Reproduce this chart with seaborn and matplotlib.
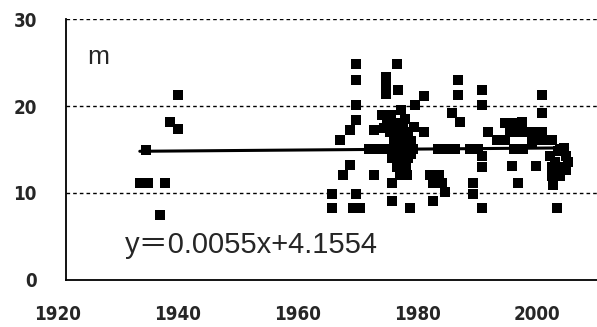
import numpy as np
import pandas as pd
import matplotlib
matplotlib.use("Agg")
import matplotlib.pyplot as plt
from matplotlib.transforms import ScaledTranslation
import seaborn as sns

# ---- data ----
years = [
    1932.3, 1933.7, 1936.5, 1935.7, 1933.4, 1938.7, 1937.3, 1938.7,
    1964.4, 1964.4, 1965.7, 1967.3, 1968.4, 1968.4, 1968.4, 1968.4, 1967.3, 1966.2,
    1968.4, 1967.9, 1969.0, 1971.4, 1971.4, 1970.5, 1971.8,
    1973.3, 1973.3, 1973.3, 1975.2, 1975.4, 1978.2, 1979.6, 1979.6,
    1972.7, 1974.2, 1973.5, 1975.0,
    1974.0, 1975.5, 1977.0, 1974.6, 1976.0, 1977.5,
    1973.0, 1974.2, 1975.4, 1976.6, 1977.8,
    1974.4, 1975.8, 1977.0, 1975.2, 1976.6, 1975.6, 1976.9,
    1974.3, 1974.3, 1977.3, 1978.0,
    1973.0, 1976.5, 1975.8, 1976.2, 1977.5, 1975.0, 1976.0, 1974.8,
    1985.4, 1985.4, 1989.3, 1989.3, 1984.4, 1985.6, 1990.4,
    1982.0, 1983.4, 1984.8, 1987.3, 1988.7,
    1989.3, 1989.3, 1980.7, 1982.1, 1981.2, 1982.6, 1983.2, 1981.2,
    1987.9, 1987.9, 1989.3,
    1991.8, 1993.2, 1994.6, 1996.2, 1997.6, 1999.3,
    1993.2, 1994.6, 1996.0, 1994.0, 1995.4, 1996.8, 1997.9,
    1999.4, 1999.4, 1999.4, 1994.3, 1998.3, 1995.4,
    2001.0, 2002.3, 2000.7, 2003.4, 2001.0, 2002.8, 2001.0, 2002.3, 2001.2, 2001.9, 2003.6,
    2002.0, 2003.0, 2002.0, 2001.5, 2003.4,
]
values = [
    11.1, 11.1, 11.1, 7.4, 14.9, 21.3, 18.2, 17.4,
    9.9, 8.2, 16.1, 17.2, 18.4, 20.1, 23.0, 24.9, 13.2, 12.1,
    9.9, 8.2, 8.2, 17.2, 12.1, 15.0, 15.0,
    23.4, 22.4, 21.4, 24.9, 21.9, 20.1, 21.1, 17.0,
    19.0, 19.0, 18.0, 18.0,
    17.0, 17.0, 17.0, 16.0, 16.0, 16.0,
    15.0, 15.0, 15.0, 15.0, 15.0,
    14.0, 14.0, 14.0, 13.0, 13.0, 12.0, 12.0,
    11.1, 9.0, 8.2, 17.6,
    17.5, 18.5, 19.5, 17.5, 14.5, 15.8, 12.8, 14.5,
    23.0, 21.3, 21.9, 20.1, 19.2, 18.2, 17.0,
    15.0, 15.0, 15.0, 15.0, 15.0,
    14.2, 13.0, 12.1, 12.1, 11.1, 11.1, 10.1, 9.0,
    11.1, 9.9, 8.2,
    16.1, 16.1, 15.1, 15.1, 15.9, 16.1,
    18.0, 18.0, 18.2, 17.0, 17.0, 17.0, 17.0,
    21.3, 19.2, 17.0, 13.1, 13.1, 11.1,
    16.1, 15.1, 14.2, 14.2, 13.0, 13.0, 11.9, 11.9, 10.9, 8.2, 13.6,
    14.8, 15.2, 12.5, 13.5, 12.6,
]
slope = 0.0055
intercept = 4.1554
equation_label = "y\uff1d0.0055x+4.1554"
unit_label = "m"
x_ticks = [1920, 1940, 1960, 1980, 2000]
y_ticks = [0, 10, 20, 30]

df = pd.DataFrame({"year": years, "value": values})
xs = np.array([min(years), max(years)])
trend = pd.DataFrame({"year": xs, "value": slope * xs + intercept})

# ---- figure ----
sns.set_style("white")
plt.rcParams["font.family"] = ["Liberation Sans", "Noto Sans CJK JP", "DejaVu Sans"]

fig = plt.figure(figsize=(5.97, 3.27), dpi=100)
ax = fig.add_axes([66 / 597, (327 - 279.5) / 327, 531 / 597, (279.5 - 19.3) / 327])

for yv in [10, 20, 30]:
    ax.axhline(yv, color="black", lw=1.0, dashes=(2.6, 2.2), zorder=1)

sns.lineplot(data=trend, x="year", y="value", color="black", lw=2.2, ax=ax, zorder=2)
sns.scatterplot(data=df, x="year", y="value", marker="s", s=42, color="black",
                linewidth=0, ax=ax, zorder=3)

ax.set_xlim(1920, 2008.5)
ax.set_ylim(0, 30)
ax.set_xticks(x_ticks)
ax.set_yticks(y_ticks)
ax.set_xlabel("")
ax.set_ylabel("")

for s in ["top", "right"]:
    ax.spines[s].set_visible(False)
for s in ["left", "bottom"]:
    ax.spines[s].set_color("black")
    ax.spines[s].set_linewidth(1.3)

tick_font = {"family": ["DejaVu Sans"], "weight": "bold",
             "stretch": "condensed", "size": 13.5}
ax.tick_params(axis="x", direction="in", length=4, width=1.0, color="black", pad=18)
ax.tick_params(axis="y", length=0, pad=21)
ax.set_xticklabels([str(t) for t in x_ticks], fontdict=tick_font)
ax.set_yticklabels([str(t) for t in y_ticks], fontdict=tick_font)
off = ScaledTranslation(-9 / 100, 0, fig.dpi_scale_trans)
for lab in ax.get_xticklabels():
    lab.set_transform(lab.get_transform() + off)

ax.text(1923.5, 24.9, unit_label, fontsize=19, family=["Liberation Sans", "DejaVu Sans"],
        va="baseline", ha="left")
ax.text(1929.8, 3.1, equation_label, fontsize=21,
        family=["Liberation Sans", "Noto Sans CJK JP", "DejaVu Sans"],
        va="baseline", ha="left")

fig.savefig("out.png", dpi=100, facecolor="white")
